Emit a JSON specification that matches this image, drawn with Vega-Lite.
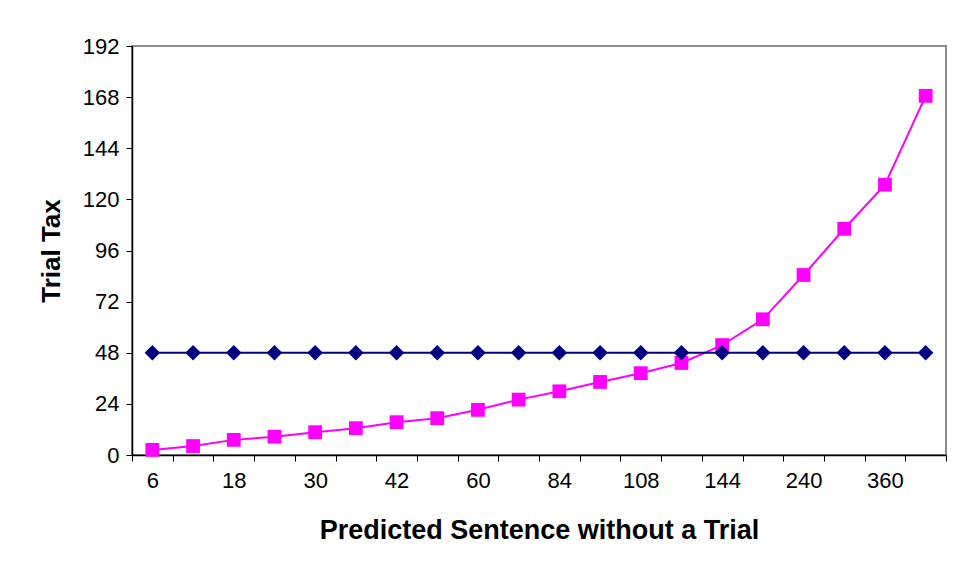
{
  "$schema": "https://vega.github.io/schema/vega-lite/v6.json",
  "width": 814,
  "height": 409,
  "autosize": "none",
  "padding": {"left": 132, "top": 46, "right": 8, "bottom": 119},
  "background": "white",
  "config": {
    "font": "Liberation Sans",
    "view": {"stroke": "#8c8c8c", "strokeWidth": 2},
    "axis": {"grid": false}
  },
  "data": {
    "values": [
      {"sentence": 6, "series": "Trial Tax", "tax": 2.4},
      {"sentence": 12, "series": "Trial Tax", "tax": 4.2},
      {"sentence": 18, "series": "Trial Tax", "tax": 7.1},
      {"sentence": 24, "series": "Trial Tax", "tax": 8.6},
      {"sentence": 30, "series": "Trial Tax", "tax": 10.7},
      {"sentence": 36, "series": "Trial Tax", "tax": 12.6},
      {"sentence": 42, "series": "Trial Tax", "tax": 15.4},
      {"sentence": 48, "series": "Trial Tax", "tax": 17.3},
      {"sentence": 60, "series": "Trial Tax", "tax": 21.2},
      {"sentence": 72, "series": "Trial Tax", "tax": 26.0},
      {"sentence": 84, "series": "Trial Tax", "tax": 29.9},
      {"sentence": 96, "series": "Trial Tax", "tax": 34.3},
      {"sentence": 108, "series": "Trial Tax", "tax": 38.4},
      {"sentence": 120, "series": "Trial Tax", "tax": 43.2},
      {"sentence": 144, "series": "Trial Tax", "tax": 51.6},
      {"sentence": 180, "series": "Trial Tax", "tax": 63.7},
      {"sentence": 240, "series": "Trial Tax", "tax": 84.5},
      {"sentence": 300, "series": "Trial Tax", "tax": 106.2},
      {"sentence": 360, "series": "Trial Tax", "tax": 126.9},
      {"sentence": 480, "series": "Trial Tax", "tax": 168.6},
      {"sentence": 6, "series": "Flat", "tax": 48},
      {"sentence": 12, "series": "Flat", "tax": 48},
      {"sentence": 18, "series": "Flat", "tax": 48},
      {"sentence": 24, "series": "Flat", "tax": 48},
      {"sentence": 30, "series": "Flat", "tax": 48},
      {"sentence": 36, "series": "Flat", "tax": 48},
      {"sentence": 42, "series": "Flat", "tax": 48},
      {"sentence": 48, "series": "Flat", "tax": 48},
      {"sentence": 60, "series": "Flat", "tax": 48},
      {"sentence": 72, "series": "Flat", "tax": 48},
      {"sentence": 84, "series": "Flat", "tax": 48},
      {"sentence": 96, "series": "Flat", "tax": 48},
      {"sentence": 108, "series": "Flat", "tax": 48},
      {"sentence": 120, "series": "Flat", "tax": 48},
      {"sentence": 144, "series": "Flat", "tax": 48},
      {"sentence": 180, "series": "Flat", "tax": 48},
      {"sentence": 240, "series": "Flat", "tax": 48},
      {"sentence": 300, "series": "Flat", "tax": 48},
      {"sentence": 360, "series": "Flat", "tax": 48},
      {"sentence": 480, "series": "Flat", "tax": 48}
    ]
  },
  "encoding": {
    "x": {
      "field": "sentence",
      "type": "ordinal",
      "sort": "ascending",
      "scale": {"paddingInner": 0, "paddingOuter": 0},
      "axis": {
        "title": "Predicted Sentence without a Trial",
        "titleFontSize": 27,
        "titleFontWeight": "bold",
        "titleColor": "black",
        "titlePadding": 26,
        "labelAngle": 0,
        "labelFontSize": 22,
        "labelColor": "black",
        "labelPadding": 9,
        "labelExpr": "indexof(['6','18','30','42','60','84','108','144','240','360'], datum.label) >= 0 ? datum.label : ''",
        "tickBand": "extent",
        "tickSize": 6,
        "tickColor": "black",
        "domainColor": "black",
        "domainWidth": 1.5,
        "labelOverlap": false
      }
    },
    "y": {
      "field": "tax",
      "type": "quantitative",
      "scale": {"domain": [0, 192], "nice": false},
      "axis": {
        "title": "Trial Tax",
        "titleFontSize": 26,
        "titleFontWeight": "bold",
        "titleColor": "black",
        "titlePadding": 18,
        "values": [0, 24, 48, 72, 96, 120, 144, 168, 192],
        "labelFontSize": 22,
        "labelColor": "black",
        "labelPadding": 7,
        "tickSize": 6,
        "tickColor": "black",
        "domainColor": "black",
        "domainWidth": 1.5
      }
    },
    "color": {
      "field": "series",
      "type": "nominal",
      "scale": {"domain": ["Flat", "Trial Tax"], "range": ["#000080", "#ff00ff"]},
      "legend": null
    },
    "shape": {
      "field": "series",
      "type": "nominal",
      "scale": {"domain": ["Flat", "Trial Tax"], "range": ["diamond", "square"]},
      "legend": null
    }
  },
  "layer": [
    {
      "mark": {"type": "line", "strokeWidth": 2},
      "encoding": {"detail": {"field": "series"}}
    },
    {
      "mark": {"type": "point", "filled": true, "opacity": 1},
      "encoding": {
        "size": {
          "field": "series",
          "type": "nominal",
          "scale": {"domain": ["Flat", "Trial Tax"], "range": [240, 190]},
          "legend": null
        }
      }
    }
  ]
}
